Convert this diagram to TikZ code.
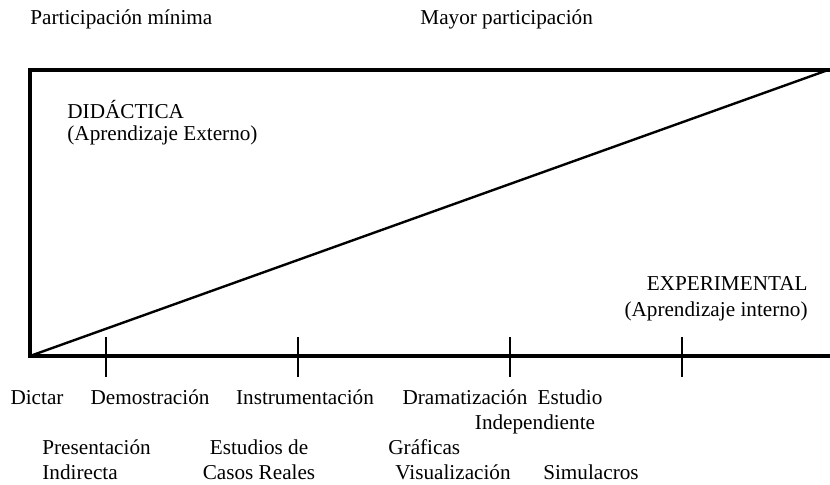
\documentclass[tikz,border=0pt]{standalone}
\usepackage{fontspec}
\setmainfont{Liberation Serif}
\tikzset{
  lbl/.style={inner sep=0pt, font=\fontsize{10.6}{12.5}\selectfont},
  frameline/.style={line width=2.3pt},
  diagline/.style={line width=1.2pt},
  tick/.style={line width=0.75pt}
}
\begin{document}
\begin{tikzpicture}[x=0.5pt,y=-0.5pt]
  \useasboundingbox (0,0) rectangle (830,484);
  % frame
  \coordinate (tr) at (830,70);
  \coordinate (tl) at (30,70);
  \coordinate (bl) at (30,356);
  \coordinate (br) at (830,356);
  \coordinate (apex) at (828,70);
  \draw[frameline, line join=miter] (tr) -- (tl) -- (bl) -- (br);
  \draw[diagline] (bl) -- (apex);
  % ticks
  \foreach \x in {106,298,510,682}
    \draw[tick] (\x,337) -- (\x,377);
  % labels
  \draw
    (30,24) node[lbl, anchor=base west] (minima) {Participación mínima}
    (420,24) node[lbl, anchor=base west] (mayor) {Mayor participación}
    (67,118) node[lbl, anchor=base west] (didac) {DIDÁCTICA}
    (67,140) node[lbl, anchor=base west] (ext) {(Aprendizaje Externo)}
    (808,290) node[lbl, anchor=base east] (exper) {EXPERIMENTAL}
    (808,316) node[lbl, anchor=base east] (int) {(Aprendizaje interno)}
    (37,404) node[lbl, anchor=base] (dictar) {Dictar}
    (150,404) node[lbl, anchor=base] (demo) {Demostración}
    (305,404) node[lbl, anchor=base] (instr) {Instrumentación}
    (465,404) node[lbl, anchor=base] (drama) {Dramatización}
    (570,404) node[lbl, anchor=base] (estudio) {Estudio}
    (535,429) node[lbl, anchor=base] (indep) {Independiente}
    (42,454) node[lbl, anchor=base west] (pres) {Presentación}
    (42,479) node[lbl, anchor=base west] (indir) {Indirecta}
    (259,454) node[lbl, anchor=base] (casos1) {Estudios de}
    (259,479) node[lbl, anchor=base] (casos2) {Casos Reales}
    (388,454) node[lbl, anchor=base west] (graf) {Gráficas}
    (453,479) node[lbl, anchor=base] (visual) {Visualización}
    (591,479) node[lbl, anchor=base] (simul) {Simulacros};
\end{tikzpicture}
\end{document}
